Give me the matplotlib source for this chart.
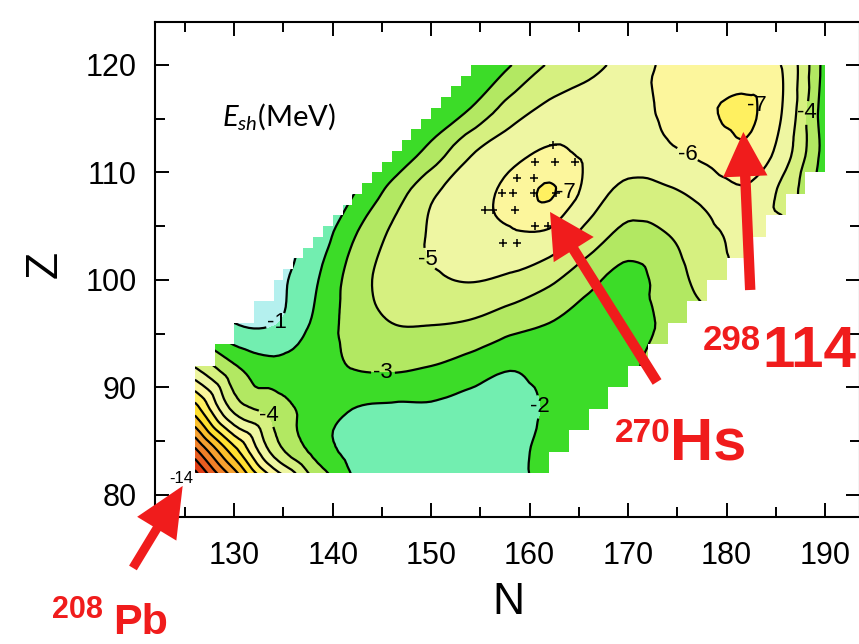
import numpy as np
import matplotlib.pyplot as plt
import matplotlib.tri as mtri
from matplotlib.path import Path
from matplotlib.patches import PathPatch

plt.rcParams['font.family'] = ['Liberation Sans', 'DejaVu Sans']
plt.rcParams['mathtext.fontset'] = 'custom'
plt.rcParams['mathtext.it'] = 'Lato:italic'
plt.rcParams['mathtext.rm'] = 'Lato'

# shell correction energy E_sh (MeV) on a coarse N-Z mesh, rows follow z_grid
n_grid = [126, 130, 134, 138, 142, 146, 150, 154, 158, 162, 166, 170, 174, 178, 182, 186, 190]
z_grid = [80, 84, 88, 92, 96, 100, 104, 108, 112, 116, 120]
e_sh = [
    [-16.2, -12.4, -8.5, -4.7, -2.2, -1.6, -1.45, -1.45, -1.7, -2.4, -2.6, -2.7, -2.8, -2.9, -3.0, -3.0, -3.0],
    [-12.4, -8.5, -4.7, -2.8, -1.7, -1.5, -1.45, -1.5, -1.7, -2.3, -2.5, -2.7, -2.8, -2.9, -3.0, -3.0, -3.0],
    [-8.5, -4.7, -3.6, -2.6, -2.0, -1.85, -1.85, -1.6, -1.5, -2.15, -2.6, -2.8, -3.0, -3.2, -3.4, -3.5, -3.6],
    [-4.9, -3.1, -2.3, -2.5, -3.05, -3.2, -3.0, -2.6, -2.1, -2.4, -2.5, -2.9, -3.2, -3.5, -3.8, -4.0, -4.0],
    [-2.2, -1.0, -0.95, -2.1, -3.4, -4.0, -4.05, -3.9, -3.4, -3.0, -2.55, -2.6, -3.2, -3.8, -4.3, -4.5, -4.5],
    [-0.8, -0.6, -0.7, -1.8, -3.4, -4.45, -4.85, -5.05, -4.8, -4.2, -3.3, -2.6, -3.5, -4.4, -5.3, -5.3, -4.5],
    [-1.0, -0.9, -0.8, -1.3, -2.9, -4.2, -5.1, -5.5, -5.8, -5.7, -4.55, -3.65, -3.95, -4.7, -5.3, -5.4, -4.5],
    [-1.0, -1.0, -1.0, -1.3, -1.95, -3.4, -4.85, -5.5, -6.3, -7.1, -5.6, -4.6, -4.8, -5.3, -5.8, -4.6, -2.5],
    [-1.0, -1.0, -1.0, -1.2, -1.6, -2.2, -3.3, -4.85, -5.6, -6.1, -5.8, -5.6, -5.85, -6.3, -6.8, -5.4, -2.6],
    [-1.0, -1.0, -1.0, -1.2, -1.5, -2.0, -2.3, -3.0, -4.4, -5.2, -5.5, -5.75, -6.15, -6.85, -7.2, -5.8, -2.4],
    [-1.0, -1.0, -1.0, -1.2, -1.5, -1.8, -2.1, -2.3, -2.95, -4.1, -4.68, -5.4, -6.2, -6.5, -6.2, -5.8, -2.6],
]

# outline of the calculated region: upper-left steps (N, top Z), lower-right steps (N, bottom Z)
upper_n = [126, 128, 130, 132, 134, 135, 136, 137, 138, 139, 140, 141, 142, 143, 144,
           145, 146, 147, 148, 149, 150, 151, 152, 153, 154]
upper_z = [92, 94, 96, 98, 100, 101, 102, 103, 104, 105, 106, 107, 108, 109, 110,
           111, 112, 113, 114, 115, 116, 117, 118, 119, 120]
lower_n = [162, 164, 166, 168, 170, 172, 174, 176, 178, 180, 182, 184, 186, 188]
lower_z = [84, 86, 88, 90, 92, 94, 96, 98, 100, 102, 104, 106, 108, 110]

# known nuclei around Hs
cross_n = [162.4, 160.5, 162.6, 164.6, 158.7, 160.4, 157.2, 158.3, 160.4, 162.7,
           155.5, 156.3, 158.5, 160.5, 161.9, 157.3, 158.7]
cross_z = [112.6, 111.0, 111.0, 111.0, 109.5, 109.5, 108.1, 108.1, 108.1, 108.1,
           106.5, 106.5, 106.5, 105.0, 105.0, 103.4, 103.4]

levels = [-30, -14, -13, -12, -11, -10, -9, -8, -7, -6, -5, -4, -3, -2, -1, 5]
band_colors = ['#d82010', '#e03c14', '#e85c20', '#f08028', '#f5a030', '#fbc02c',
               '#ffe030', '#fff060', '#fcf69c', '#eef6a2', '#d6f080', '#b2e862',
               '#3cdc28', '#72eeb0', '#b4f0ee']

# contour labels placed on their lines
lab_level = [-1, -2, -3, -4, -4, -5, -6]
lab_n = [133.9, 161.1, 145.1, 133.3, 188.7, 150.2, 176.3]
lab_z = [96.5, 88.2, 91.0, 87.2, 115.5, 102.2, 112.1]

red = '#f01c1c'

fig = plt.figure(figsize=(8.59, 6.44), dpi=100)
ax = fig.add_axes([155 / 859, 1 - 517 / 644, 705 / 859, 495 / 644])
ax.set_xlim(121.95, 193.55)
ax.set_ylim(77.95, 124.0)

nn, zz = np.meshgrid(n_grid, z_grid)
e = np.array(e_sh).ravel()
nc = len(n_grid)
tris = []
for j in range(len(z_grid) - 1):
    for i in range(nc - 1):
        a = j * nc + i
        tris += [[a, a + 1, a + nc + 1], [a, a + nc + 1, a + nc]]
tri = mtri.Triangulation(nn.ravel().astype(float), zz.ravel().astype(float), tris)
interp = mtri.CubicTriInterpolator(tri, e, kind='geom')
tri_f, e_f = mtri.UniformTriRefiner(tri).refine_field(e, triinterpolator=interp, subdiv=3)

verts = [(126, 82), (162, 82)]
prev = 82
for n, z in zip(lower_n, lower_z):
    verts += [(n, prev), (n, z)]
    prev = z
verts += [(190, prev), (190, 120)]
for i in range(len(upper_n) - 1, -1, -1):
    verts.append((upper_n[i], upper_z[i]))
    if i > 0:
        verts.append((upper_n[i], upper_z[i - 1]))
verts.append((126, 82))
clip = PathPatch(Path(verts), transform=ax.transData, facecolor='none', edgecolor='none')

fill = ax.tricontourf(tri_f, e_f, levels=levels, colors=band_colors)
fill.set_clip_path(clip)

# one line set per level so each can carry its own label
line_sets = {}
for lev in levels[1:-1]:
    cs = ax.tricontour(tri_f, e_f, levels=[lev], colors='k', linewidths=1.6,
                       linestyles='solid')
    cs.set_clip_path(clip)
    line_sets[lev] = cs

for lev, n, z in zip(lab_level, lab_n, lab_z):
    txts = line_sets[lev].clabel(manual=[(n, z)], fmt='%d', fontsize=16, inline_spacing=2)
    for t in txts:
        t.set_rotation(0)

ax.text(163.7, 108.1, '-7', fontsize=16, ha='center', va='center')
ax.text(183.1, 116.2, '-7', fontsize=16, ha='center', va='center')
ax.text(124.6, 81.5, '-14', fontsize=12, ha='center', va='center')

ax.plot(cross_n, cross_z, 'k+', ms=6, mew=1.1, ls='none')

# arrows to 208Pb, 270Hs and 298114
arrow_tips = [(124.76, 80.84), (162.07, 106.33), (181.7, 113.77)]
arrow_tails = [(119.71, 73.21), (172.94, 90.51), (182.4, 99.07)]
arrow_styles = ['simple,head_length=36,head_width=33,tail_width=6.5',
                'simple,head_length=32,head_width=34,tail_width=7.5',
                'simple,head_length=32,head_width=32,tail_width=7.5']
for tip, tail, style in zip(arrow_tips, arrow_tails, arrow_styles):
    ax.annotate('', xy=tip, xytext=tail, annotation_clip=False,
                arrowprops=dict(arrowstyle=style, color=red, mutation_scale=1,
                                shrinkA=0, shrinkB=0, lw=0))

ax.set_xticks(range(130, 191, 10))
ax.set_xticks(range(125, 194, 5), minor=True)
ax.set_yticks(range(80, 121, 10))
ax.set_yticks(range(80, 124, 5), minor=True)
ax.tick_params(which='both', direction='in', top=True, right=True, width=1.4)
ax.tick_params(which='major', length=10, labelsize=22)
ax.tick_params(which='minor', length=7)
ax.tick_params(axis='x', pad=17)
ax.tick_params(axis='y', pad=13)
for s in ax.spines.values():
    s.set_linewidth(1.5)

fig.text(508 / 859, 1 - 603 / 644, 'N', fontsize=32, ha='center', va='center')
fig.text(45 / 859, 1 - 264 / 644, 'Z', fontsize=32, ha='center', va='center', rotation=90)
fig.text(222 / 859, 1 - 125 / 644, r'$E_{sh}$(MeV)', fontsize=21, family='Lato', va='baseline')

lab = dict(color=red, family='Liberation Sans', weight='bold', va='baseline')
fig.text(52 / 859, 1 - 618 / 644, '208', fontsize=22, **lab)
fig.text(113 / 859, 1 - 634 / 644, 'Pb', fontsize=31, **lab)
fig.text(615 / 859, 1 - 442 / 644, '270', fontsize=24, **lab)
fig.text(670 / 859, 1 - 460 / 644, 'Hs', fontsize=43, **lab)
fig.text(703 / 859, 1 - 350 / 644, '298', fontsize=25, **lab)
fig.text(762 / 859, 1 - 367 / 644, '114', fontsize=42, **lab)

fig.savefig('out.png', dpi=100)
